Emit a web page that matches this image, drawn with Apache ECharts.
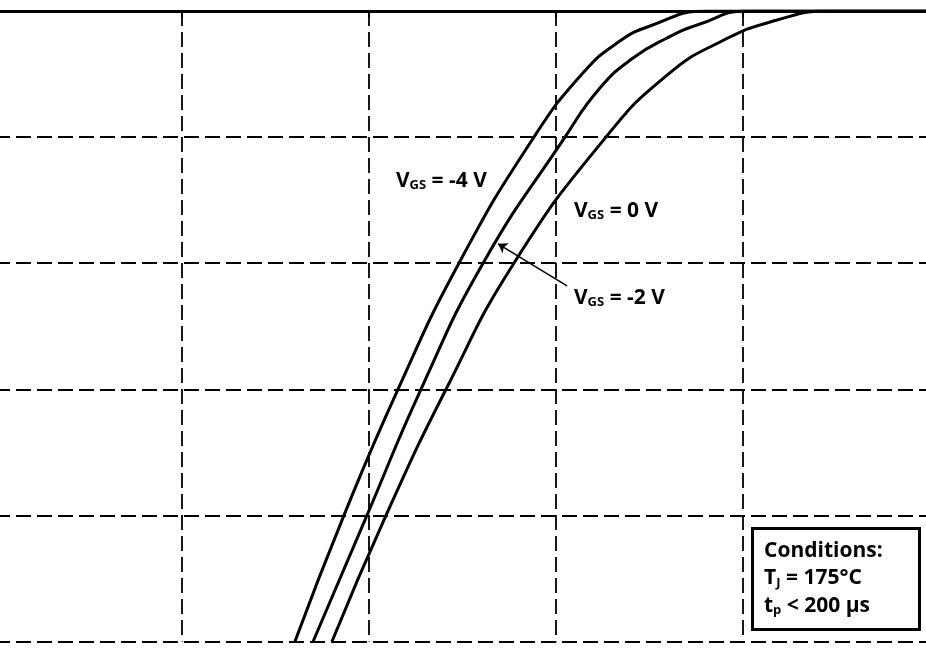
<!DOCTYPE html>
<html><head><meta charset="utf-8">
<script src="https://cdn.jsdelivr.net/npm/echarts@6/dist/echarts.min.js"></script>
<style>html,body{margin:0;padding:0;background:#fff;overflow:hidden;width:926px;height:650px;position:relative}#c{position:absolute;left:-5px;top:0;width:935px;height:650px}</style>
</head><body><div id="c"></div>
<script>
// x: drain-source voltage (V), y: drain-source current (A)
const xTicks = { min: -5, max: 0, interval: 1 };
const yTicks = { min: -50, max: 0, interval: 10 };

const vgsNeg4 = [[-3.396,-50],[-3.134,-40],[-2.845,-30],[-2.519,-20],[-2.118,-10],[-1.856,-4.92],[-1.674,-2.54],[-1.497,-1.19],[-1.193,0],[-0.8,0],[0,0]];
const vgsNeg2 = [[-3.299,-50],[-3.011,-40],[-2.722,-30],[-2.390,-20],[-1.952,-10],[-1.765,-6.11],[-1.588,-3.73],[-1.406,-2.14],[-1.230,-1.03],[-0.979,0],[-0.6,0],[0,0]];
const vgs0 = [[-3.198,-50],[-2.909,-40],[-2.588,-30],[-2.225,-20],[-1.733,-10],[-1.406,-5.08],[-1.123,-2.46],[-0.818,-0.71],[-0.535,0],[-0.3,0],[0,0]];

const labelNeg4 = { text: '{m|V}{s|GS}{m| = -4 V}', at: [-2.856, -13.5] };
const label0 = { text: '{m|V}{s|GS}{m| = 0 V}', at: [-1.904, -15.85] };
const labelNeg2 = { text: '{m|V}{s|GS}{m| = -2 V}', at: [-1.904, -22.75] };
const arrowFrom = [-1.941, -21.79];
const arrowTo = [-2.31, -18.46];
const conditions = ['{m|Conditions:}', '{m|T}{s|J}{m| = 175°C}', '{m|t}{s|p}{m| < 200 µs}'];

const FONT = 'Open Sans';
const rich = {
  m: { fontSize: 21, fontWeight: 'bold', fontFamily: FONT, lineHeight: 22, fill: '#000' },
  s: { fontSize: 13, fontWeight: 'bold', fontFamily: FONT, lineHeight: 8, verticalAlign: 'bottom', fill: '#000' }
};
const dashed = { color: '#000', width: 1.8, type: [15, 6] };

const chart = echarts.init(document.getElementById('c'));
const mkLine = (name, data) => ({
  name, type: 'line', data, showSymbol: false, smooth: 0.5,
  lineStyle: { color: '#000', width: 3 }, itemStyle: { color: '#000' }, animation: false
});
const series = [mkLine('VGS = -4 V', vgsNeg4), mkLine('VGS = -2 V', vgsNeg2), mkLine('VGS = 0 V', vgs0)];
series[1].markLine = {
  silent: true, animation: false, symbolSize: 9,
  lineStyle: { color: '#000', width: 1.5, type: 'solid' }, label: { show: false },
  data: [[{ coord: arrowFrom, symbol: 'none' }, { coord: arrowTo, symbol: 'arrow' }]]
};
chart.setOption({
  animation: false,
  backgroundColor: '#fff',
  grid: { left: 0, right: 0, top: 11, bottom: 8.5 },
  xAxis: {
    type: 'value', position: 'top', min: xTicks.min, max: xTicks.max, interval: xTicks.interval,
    axisLine: { show: true, onZero: false, lineStyle: { color: '#000', width: 3 } },
    axisTick: { show: true, inside: true, length: 6, lineStyle: { color: '#000', width: 2 } },
    axisLabel: { show: false },
    splitLine: { show: true, lineStyle: dashed }
  },
  yAxis: {
    type: 'value', min: yTicks.min, max: yTicks.max, interval: yTicks.interval,
    axisLine: { show: false }, axisTick: { show: false }, axisLabel: { show: false },
    splitLine: { show: true, lineStyle: dashed }
  },
  series
});

function textEl(text, p) {
  return { type: 'text', x: p[0], y: p[1], z: 100,
    style: { text, rich, verticalAlign: 'middle', align: 'left', fill: '#000' } };
}
const OFF = 5; // div is shifted 5px left
const els = [];
[labelNeg4, label0, labelNeg2].forEach(l => {
  els.push(textEl(l.text, chart.convertToPixel({ gridIndex: 0 }, l.at)));
});
els.push({ type: 'rect', z: 90, shape: { x: 752.5 + OFF, y: 528.5, width: 167, height: 101 },
  style: { fill: '#fff', stroke: '#000', lineWidth: 3 } });
conditions.forEach((t, i) => els.push(textEl(t, [764 + OFF, 551 + i * 27.5])));
chart.setOption({ graphic: { elements: els } });
</script></body></html>
